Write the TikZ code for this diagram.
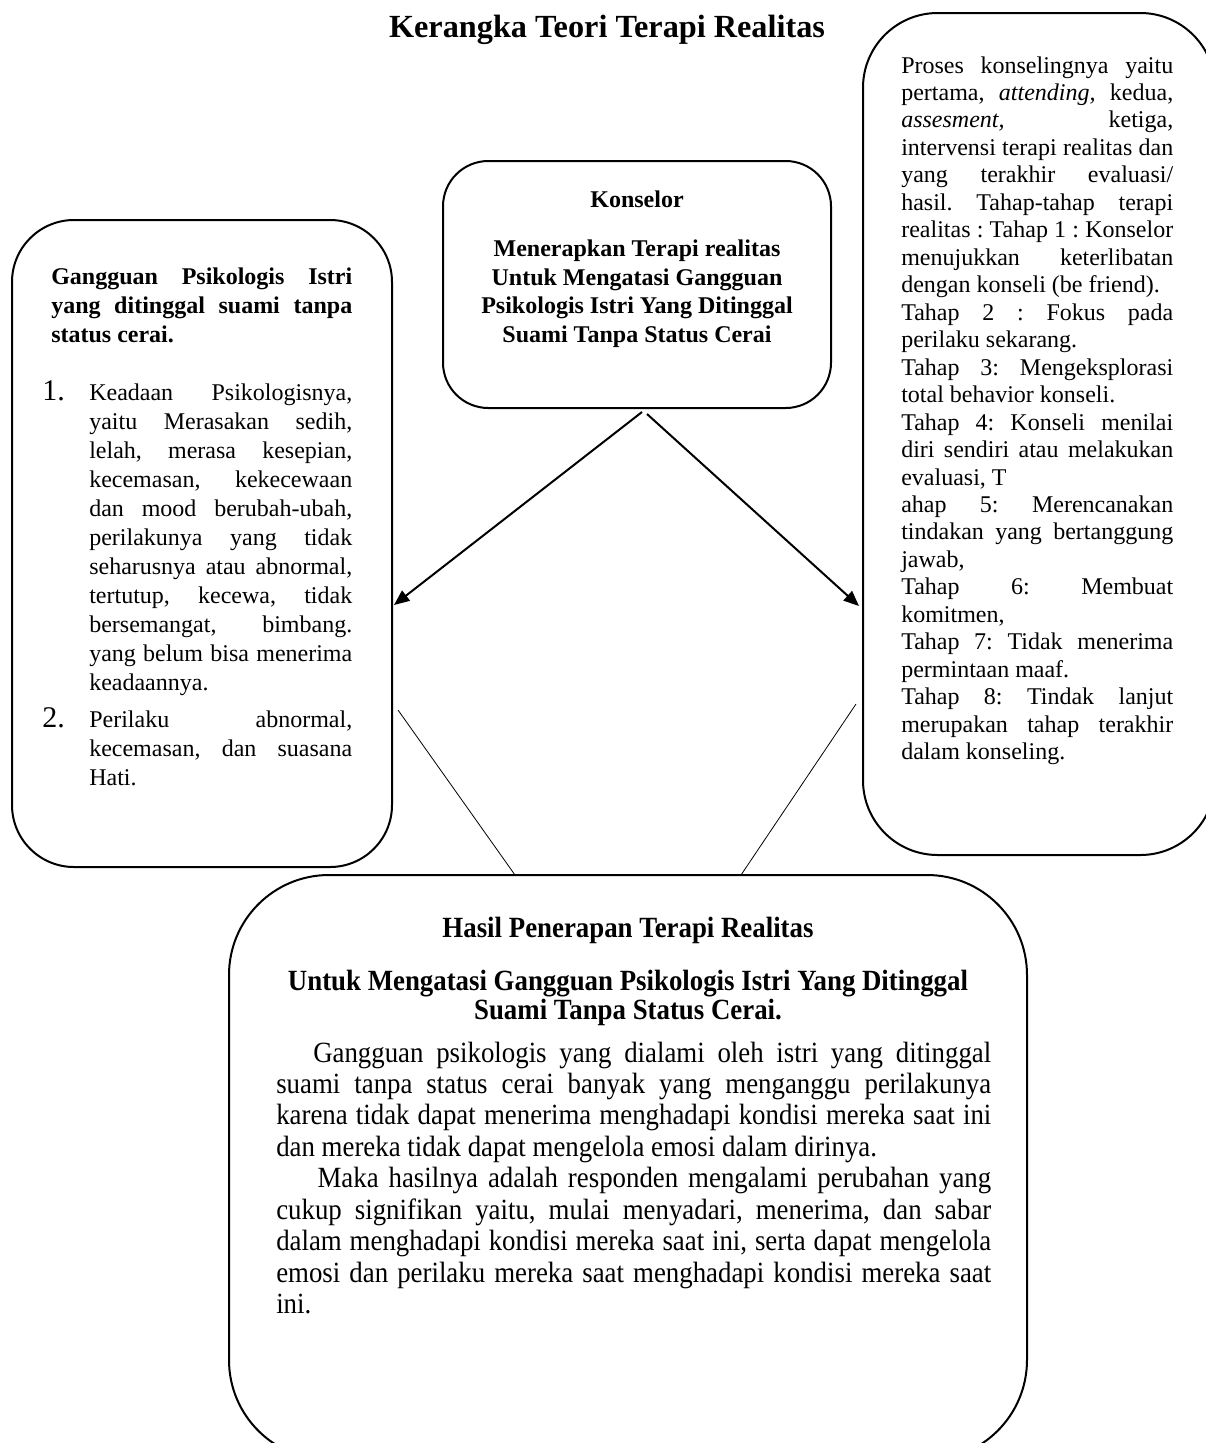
\documentclass[tikz,border=0pt]{standalone}
\usepackage{fontspec}
\setmainfont{Liberation Serif}
\newfontfamily\condfont[FakeStretch=0.915]{Liberation Serif}
\usetikzlibrary{arrows.meta}
\hyphenpenalty=10000
\exhyphenpenalty=10000
\tolerance=10000
\hbadness=10000
\frenchspacing
\begin{document}
\begin{tikzpicture}[x=0.75pt,y=-0.75pt,
  roundbox/.style={draw=black, line width=1.5pt, inner sep=0pt, outer sep=0pt},
  titletext/.style={inner sep=0pt, font=\bfseries\fontsize{24.2}{28}\selectfont},
  ctext/.style={inner sep=0pt, align=center, font=\bfseries\fontsize{18}{21.4}\selectfont},
  lhead/.style={inner sep=0pt, anchor=base west, text width=225.75pt, align=justify, font=\bfseries\fontsize{18}{21.75}\selectfont},
  lbody/.style={inner sep=0pt, anchor=base west, text width=197.25pt, align=justify, font=\fontsize{18}{21.75}\selectfont},
  lnum/.style={inner sep=0pt, anchor=base west, font=\fontsize{22.5}{24}\selectfont},
  rbody/.style={inner sep=0pt, anchor=base west, text width=204pt, align=justify, font=\fontsize{18}{20.6}\selectfont},
  bhead/.style={inner sep=0pt, align=center, font=\condfont\bfseries\fontsize{22}{21.75}\selectfont},
  bbody/.style={inner sep=0pt, anchor=base west, text width=536.25pt, align=justify, font=\condfont\fontsize{22}{23.6}\selectfont},
  arrowline/.style={line width=1.5pt, -{Triangle[length=11.5pt, width=9.5pt]}},
  thinline/.style={line width=0.6pt}
]
\useasboundingbox (0,0) rectangle (1206,1443);
\fill[white] (0,0) rectangle (1206,1443);
\clip (0,0) rectangle (1206,1443);

% title
\node[titletext] (title) at (607,30) {Kerangka Teori Terapi Realitas};

% boxes
\node[roundbox, rounded corners=46.5pt, minimum width=285pt, minimum height=485.25pt] (leftbox) at (202,543.5) {};
\node[roundbox, rounded corners=34pt, minimum width=291pt, minimum height=185.25pt] (centerbox) at (637,284.5) {};
\node[roundbox, rounded corners=56pt, minimum width=264pt, minimum height=631.5pt] (rightbox) at (1039,434) {};
\node[roundbox, rounded corners=75pt, minimum width=598.5pt, minimum height=438.75pt] (bottombox) at (628,1167.5) {};

% center box text
\node[ctext] (konselor) at (637,199) {Konselor};
\node[ctext] (kbody) at (637,293.5) {Menerapkan Terapi realitas\\Untuk Mengatasi Gangguan\\Psikologis Istri Yang Ditinggal\\Suami Tanpa Status Cerai};

% left box text
\node[lhead] (lheading) at (51,284) {Gangguan Psikologis Istri\linebreak yang ditinggal suami tanpa\linebreak status cerai.};
\node[lnum] (num1) at (42,400) {1.};
\node[lbody] (item1) at (89,400) {Keadaan Psikologisnya,\linebreak yaitu Merasakan sedih,\linebreak lelah, merasa kesepian,\linebreak kecemasan, kekecewaan\linebreak dan mood berubah-ubah,\linebreak perilakunya yang tidak\linebreak seharusnya atau abnormal,\linebreak tertutup, kecewa, tidak\linebreak bersemangat, bimbang.\linebreak yang belum bisa menerima\linebreak keadaannya.};
\node[lnum] (num2) at (42,727) {2.};
\node[lbody] (item2) at (89,727) {Perilaku abnormal,\linebreak kecemasan, dan suasana\linebreak Hati.};

% right box text
\node[rbody] (rtext) at (901,73) {Proses konselingnya yaitu\linebreak pertama, \textit{attending,} kedua,\linebreak \textit{assesment,} ketiga,\linebreak intervensi terapi realitas dan\linebreak yang terakhir evaluasi/\linebreak hasil. Tahap-tahap terapi\linebreak realitas : Tahap 1 : Konselor\linebreak menujukkan keterlibatan\linebreak dengan konseli (be friend).\par
Tahap 2 : Fokus pada\linebreak perilaku sekarang.\par
Tahap 3: Mengeksplorasi\linebreak total behavior konseli.\par
Tahap 4: Konseli menilai\linebreak diri sendiri atau melakukan\linebreak evaluasi, T\par
ahap 5: Merencanakan\linebreak tindakan yang bertanggung\linebreak jawab,\par
Tahap 6: Membuat\linebreak komitmen,\par
Tahap 7: Tidak menerima\linebreak permintaan maaf.\par
Tahap 8: Tindak lanjut\linebreak merupakan tahap terakhir\linebreak dalam konseling.};

% bottom box text
\node[bhead] (bhead1) at (628,930) {Hasil Penerapan Terapi Realitas};
\node[bhead] (bhead2) at (628,997.5) {Untuk Mengatasi Gangguan Psikologis Istri Yang Ditinggal\\Suami Tanpa Status Cerai.};
\node[bbody] (bpara) at (276,1062) {\hspace*{27.75pt}Gangguan psikologis yang dialami oleh istri yang ditinggal\linebreak suami tanpa status cerai banyak yang menganggu perilakunya\linebreak karena tidak dapat menerima menghadapi kondisi mereka saat ini\linebreak dan mereka tidak dapat mengelola emosi dalam dirinya.\par
\hspace*{31pt}Maka hasilnya adalah responden mengalami perubahan yang\linebreak cukup signifikan yaitu, mulai menyadari, menerima, dan sabar\linebreak dalam menghadapi kondisi mereka saat ini, serta dapat mengelola\linebreak emosi dan perilaku mereka saat menghadapi kondisi mereka saat\linebreak ini.};

% connectors
\coordinate (a1s) at (642,412);
\coordinate (a1e) at (394,605);
\coordinate (a2s) at (647,414);
\coordinate (a2e) at (859,606);
\draw[arrowline] (a1s) -- (a1e);
\draw[arrowline] (a2s) -- (a2e);
\coordinate (t1s) at (398,710);
\coordinate (t1e) at (515,875);
\coordinate (t2s) at (856,704);
\coordinate (t2e) at (741,875);
\draw[thinline] (t1s) -- (t1e);
\draw[thinline] (t2s) -- (t2e);
\end{tikzpicture}
\end{document}
